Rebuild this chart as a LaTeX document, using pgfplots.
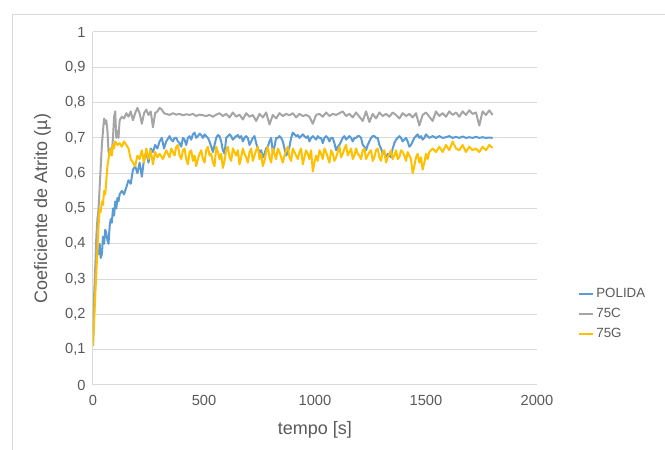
\documentclass[border=0pt]{standalone}
\usepackage{fontspec}
\setmainfont{Liberation Sans}
\usepackage{pgfplots}
\pgfplotsset{compat=1.18}

\definecolor{cPolida}{HTML}{5B9BD5}
\definecolor{cC}{HTML}{A5A5A5}
\definecolor{cG}{HTML}{FFC000}
\definecolor{txt}{HTML}{595959}
\definecolor{gridc}{HTML}{D9D9D9}

\begin{document}
\begin{tikzpicture}
  \useasboundingbox (0,0) rectangle (498.75pt,337.5pt);
  % frame of the pasted chart
  \draw[gridc, line width=0.75pt] (9pt,0pt) -- (9pt,326.25pt) -- (498.75pt,326.25pt);

  \begin{axis}[
      at={(69.75pt,48.75pt)}, anchor=south west,
      scale only axis,
      width=333pt, height=264.75pt,
      xmin=0, xmax=2000, ymin=0, ymax=1,
      xtick={0,500,1000,1500,2000},
      ytick={0,0.1,...,1},
      axis x line=bottom, axis y line=left,
      axis line style={gridc, line width=0.75pt, -},
      major tick length=0pt,
      ymajorgrids=true,
      grid style={gridc, line width=0.75pt},
      /pgf/number format/assume math mode=true,
      /pgf/number format/use comma,
      /pgf/number format/1000 sep={},
      ticklabel style={font=\fontsize{11}{13}\selectfont, text=txt},
      xticklabel style={yshift=-4pt},
      yticklabel style={xshift=-2pt},
      xlabel={tempo [s]},
      ylabel={Coeficiente de Atrito (µ)},
      label style={font=\fontsize{13.5}{16}\selectfont, text=txt},
      xlabel style={yshift=-5pt},
      ylabel style={yshift=4pt},
      legend cell align=left,
      legend style={draw=none, fill=none, at={(1.082,0.201)}, anchor=west,
        font=\fontsize{10}{12}\selectfont, text=txt, row sep=2.5pt},
      legend image code/.code={\draw[#1] (0pt,0pt) -- (10.5pt,0pt);},
      every axis plot/.append style={line width=1.5pt, line join=round},
    ]

    \addplot[cPolida] coordinates {
      (0,0.12)(5,0.22)(10,0.3)(15,0.36)(20,0.38)(25,0.37)(30,0.40)(35,0.36)(40,0.37)
      (45,0.42)(50,0.40)(55,0.44)(60,0.43)(65,0.41)(70,0.40)(75,0.45)(80,0.47)(85,0.46)
      (90,0.50)(95,0.48)(100,0.52)(105,0.5)(110,0.53)(115,0.52)(120,0.54)(130,0.55)
      (140,0.54)(150,0.56)(160,0.58)(170,0.57)(180,0.61)(190,0.62)(200,0.60)(210,0.63)
      (220,0.59)(230,0.64)(240,0.66)(250,0.63)(260,0.67)(270,0.66)(280,0.68)(290,0.67)
      (300,0.69)(310,0.70)(320,0.67)(330,0.69)
      (345,0.705)(352.5,0.695)(360,0.69)(367.5,0.70)(375,0.70)(382.5,0.69)(390,0.685)(397.5,0.675)
      (405,0.70)(412.5,0.695)(420,0.68)(427.5,0.70)(435,0.705)(442.5,0.695)(450,0.71)(457.5,0.715)
      (465,0.70)(472.5,0.705)(480,0.712)(487.5,0.708)(495,0.70)(502.5,0.71)(510,0.705)(517.5,0.70)
      (525,0.69)(532.5,0.675)(540,0.66)(547.5,0.68)(555,0.70)(562.5,0.708)(570,0.705)(577.5,0.69)
      (585,0.665)(592.5,0.655)(600,0.70)(607.5,0.705)(615,0.71)(622.5,0.705)(630,0.695)(637.5,0.70)
      (645,0.705)(652.5,0.708)(660,0.70)(667.5,0.705)(675,0.69)(682.5,0.70)(690,0.705)(697.5,0.70)
      (705,0.68)(712.5,0.69)(720,0.70)(727.5,0.705)(735,0.685)(742.5,0.67)(750,0.66)(757.5,0.665)
      (765,0.645)(772.5,0.655)(780,0.67)(787.5,0.675)(795,0.69)(802.5,0.70)(810,0.66)(817.5,0.675)
      (825,0.70)(832.5,0.70)(840,0.705)(847.5,0.70)(855,0.69)(862.5,0.67)(870,0.65)(877.5,0.66)
      (885,0.675)(892.5,0.70)(900,0.715)(907.5,0.71)(915,0.705)(922.5,0.708)(930,0.70)(937.5,0.705)
      (945,0.71)(952.5,0.705)(960,0.70)(967.5,0.705)(975,0.69)(982.5,0.70)(990,0.705)(997.5,0.70)
      (1005,0.695)(1012.5,0.705)(1020,0.70)(1027.5,0.70)(1035,0.685)(1042.5,0.70)(1050,0.705)(1057.5,0.70)
      (1065,0.69)(1072.5,0.70)(1080,0.70)(1087.5,0.685)(1095,0.665)(1102.5,0.675)(1110,0.68)(1117.5,0.69)
      (1125,0.70)(1132.5,0.705)(1140,0.695)(1147.5,0.70)(1155,0.705)(1162.5,0.70)(1170,0.69)(1177.5,0.70)
      (1185,0.70)(1192.5,0.705)(1200,0.705)(1207.5,0.70)(1215,0.68)(1222.5,0.675)(1230,0.665)(1237.5,0.68)
      (1245,0.69)(1252.5,0.70)(1260,0.705)(1267.5,0.705)(1275,0.70)(1282.5,0.70)(1290,0.68)(1297.5,0.67)
      (1305,0.655)(1312.5,0.66)(1320,0.64)(1327.5,0.655)(1335,0.65)(1342.5,0.645)(1350,0.67)(1357.5,0.685)
      (1365,0.695)(1372.5,0.70)(1380,0.705)(1387.5,0.70)(1395,0.69)(1402.5,0.695)(1410,0.70)(1417.5,0.69)
      (1425,0.675)(1432.5,0.68)(1440,0.69)(1447.5,0.70)(1455,0.705)(1462.5,0.71)(1470,0.70)(1477.5,0.705)
      (1485,0.695)(1492.5,0.70)(1500,0.71)
      (1515,0.70)(1530,0.705)(1545,0.70)(1560,0.705)(1575,0.70)(1590,0.702)(1605,0.705)(1620,0.70)
      (1635,0.703)(1650,0.70)(1665,0.704)(1680,0.70)(1695,0.702)(1710,0.70)(1725,0.703)(1740,0.70)
      (1755,0.702)(1770,0.70)(1785,0.701)(1800,0.70)
    };
    \addlegendentry{POLIDA}

    \addplot[cC] coordinates {
      (0,0.15)(5,0.25)(10,0.33)(15,0.42)(20,0.47)(25,0.5)(30,0.56)(35,0.62)(40,0.68)
      (45,0.72)(50,0.755)(55,0.74)(60,0.75)(65,0.72)(70,0.66)(75,0.65)(80,0.67)(85,0.66)
      (90,0.70)(95,0.76)(100,0.775)(105,0.70)(110,0.72)(115,0.70)(120,0.75)(130,0.76)
      (140,0.755)(150,0.77)(160,0.76)(170,0.775)(180,0.75)(190,0.77)(200,0.785)(210,0.77)
      (220,0.74)(230,0.77)(240,0.78)(250,0.765)(260,0.775)(270,0.73)(280,0.77)(290,0.775)
      (300,0.785)(310,0.78)(320,0.77)
      (330,0.768)(345,0.765)(360,0.77)(375,0.766)(390,0.768)(405,0.764)(420,0.767)(435,0.765)
      (450,0.768)(465,0.762)(480,0.766)(495,0.764)(510,0.762)(525,0.765)(540,0.76)(555,0.766)
      (570,0.77)(585,0.762)(600,0.768)(615,0.758)(630,0.772)(645,0.76)(660,0.766)(675,0.752)
      (690,0.77)(705,0.76)(720,0.765)(735,0.748)(750,0.768)(765,0.758)(780,0.772)(795,0.738)
      (810,0.765)(825,0.755)(840,0.77)(855,0.762)(870,0.768)(885,0.764)(900,0.77)(915,0.758)
      (930,0.768)(945,0.762)(960,0.765)(975,0.76)(990,0.74)(1005,0.765)(1020,0.768)(1035,0.76)
      (1050,0.772)(1065,0.762)(1080,0.768)(1095,0.765)(1110,0.77)(1125,0.775)(1140,0.762)(1155,0.768)
      (1170,0.758)(1185,0.772)(1200,0.76)(1215,0.748)(1230,0.775)(1245,0.745)(1260,0.768)(1275,0.755)
      (1290,0.772)(1305,0.762)(1320,0.768)(1335,0.76)(1350,0.772)(1365,0.765)(1380,0.755)(1395,0.77)
      (1410,0.762)(1425,0.768)(1440,0.758)(1455,0.77)(1470,0.735)(1485,0.765)(1500,0.772)(1515,0.76)
      (1530,0.748)(1545,0.775)(1560,0.762)(1575,0.77)(1590,0.76)(1605,0.775)(1620,0.765)(1635,0.772)
      (1650,0.76)(1665,0.775)(1680,0.765)(1695,0.778)(1710,0.768)(1725,0.772)(1740,0.735)(1755,0.775)
      (1770,0.765)(1785,0.778)(1800,0.765)
    };
    \addlegendentry{75C}

    \addplot[cG] coordinates {
      (0,0.11)(5,0.18)(10,0.25)(15,0.32)(20,0.38)(25,0.45)(30,0.50)(35,0.49)(40,0.52)
      (45,0.51)(50,0.55)(55,0.54)(60,0.58)(65,0.62)(70,0.64)(75,0.66)(80,0.67)(85,0.65)
      (90,0.68)(95,0.67)(100,0.69)(110,0.68)(120,0.685)(130,0.675)(140,0.69)(150,0.68)
      (160,0.67)(170,0.64)(180,0.63)(190,0.62)(200,0.65)(210,0.64)(220,0.665)(230,0.63)
      (240,0.67)(250,0.64)(260,0.665)(270,0.625)(280,0.66)(290,0.645)(300,0.655)(315,0.64)
      (330,0.665)
      (345,0.645)(352.5,0.67)(360,0.66)(367.5,0.65)(375,0.675)(382.5,0.68)(390,0.65)(397.5,0.64)
      (405,0.665)(412.5,0.67)(420,0.64)(427.5,0.625)(435,0.66)(442.5,0.665)(450,0.635)(457.5,0.65)
      (465,0.62)(472.5,0.64)(480,0.655)(487.5,0.665)(495,0.64)(502.5,0.63)(510,0.665)(517.5,0.675)
      (525,0.65)(532.5,0.655)(540,0.63)(547.5,0.62)(555,0.675)(562.5,0.66)(570,0.64)(577.5,0.655)
      (585,0.615)(592.5,0.635)(600,0.665)(607.5,0.675)(615,0.645)(622.5,0.635)(630,0.67)(637.5,0.66)
      (645,0.65)(652.5,0.665)(660,0.625)(667.5,0.645)(675,0.67)(682.5,0.655)(690,0.645)(697.5,0.63)
      (705,0.66)(712.5,0.67)(720,0.635)(727.5,0.65)(735,0.665)(742.5,0.675)(750,0.64)(757.5,0.655)
      (765,0.62)(772.5,0.635)(780,0.66)(787.5,0.675)(795,0.645)(802.5,0.63)(810,0.67)(817.5,0.655)
      (825,0.64)(832.5,0.67)(840,0.66)(847.5,0.645)(855,0.63)(862.5,0.65)(870,0.665)(877.5,0.675)
      (885,0.645)(892.5,0.635)(900,0.67)(907.5,0.66)(915,0.65)(922.5,0.64)(930,0.66)(937.5,0.67)
      (945,0.625)(952.5,0.645)(960,0.665)(967.5,0.655)(975,0.64)(982.5,0.665)(990,0.605)(997.5,0.63)
      (1005,0.65)(1012.5,0.635)(1020,0.665)(1027.5,0.655)(1035,0.64)(1042.5,0.67)(1050,0.66)(1057.5,0.645)
      (1065,0.63)(1072.5,0.665)(1080,0.655)(1087.5,0.635)(1095,0.645)(1102.5,0.66)(1110,0.675)(1117.5,0.645)
      (1125,0.655)(1132.5,0.67)(1140,0.68)(1147.5,0.65)(1155,0.66)(1162.5,0.67)(1170,0.64)(1177.5,0.65)
      (1185,0.67)(1192.5,0.655)(1200,0.65)(1207.5,0.64)(1215,0.665)(1222.5,0.67)(1230,0.64)(1237.5,0.65)
      (1245,0.66)(1252.5,0.665)(1260,0.635)(1267.5,0.645)(1275,0.665)(1282.5,0.67)(1290,0.645)(1297.5,0.635)
      (1305,0.66)(1312.5,0.665)(1320,0.63)(1327.5,0.645)(1335,0.655)(1342.5,0.665)(1350,0.64)(1357.5,0.65)
      (1365,0.665)(1372.5,0.64)(1380,0.645)(1387.5,0.665)(1395,0.66)(1402.5,0.65)(1410,0.635)(1417.5,0.66)
      (1425,0.65)(1432.5,0.64)(1440,0.60)(1447.5,0.62)(1455,0.645)(1462.5,0.655)(1470,0.63)(1477.5,0.645)
      (1485,0.61)(1492.5,0.63)(1500,0.655)(1507.5,0.64)(1515,0.66)
      (1530,0.67)(1545,0.66)(1560,0.675)(1575,0.66)(1590,0.68)(1605,0.665)(1620,0.69)(1635,0.67)
      (1650,0.665)(1665,0.68)(1680,0.66)(1695,0.675)(1710,0.665)(1725,0.67)(1740,0.66)(1755,0.675)
      (1770,0.665)(1785,0.68)(1800,0.672)
    };
    \addlegendentry{75G}
  \end{axis}
\end{tikzpicture}
\end{document}
